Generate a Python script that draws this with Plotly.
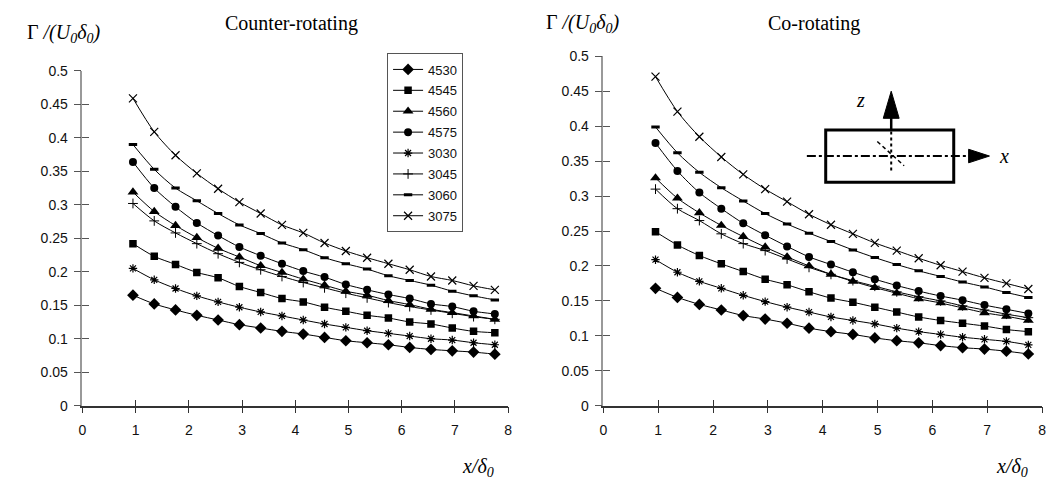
import plotly.graph_objects as go

W, H = 1053, 494

# ---------------- data ----------------
x_pos = [0.95, 1.35, 1.75, 2.15, 2.55, 2.95, 3.35, 3.75, 4.15,
         4.55, 4.95, 5.35, 5.75, 6.15, 6.55, 6.95, 7.35, 7.75]

series_names = ["4530", "4545", "4560", "4575", "3030", "3045", "3060", "3075"]

# Counter-rotating
cr_4530 = [0.165, 0.152, 0.143, 0.135, 0.128, 0.121, 0.116, 0.111, 0.107,
           0.102, 0.097, 0.094, 0.091, 0.087, 0.084, 0.082, 0.080, 0.077]
cr_4545 = [0.242, 0.223, 0.211, 0.199, 0.191, 0.178, 0.169, 0.160, 0.155,
           0.147, 0.141, 0.135, 0.131, 0.125, 0.122, 0.116, 0.111, 0.109]
cr_4560 = [0.319, 0.290, 0.269, 0.251, 0.235, 0.222, 0.209, 0.199, 0.189,
           0.180, 0.171, 0.165, 0.157, 0.151, 0.144, 0.139, 0.134, 0.129]
cr_4575 = [0.364, 0.325, 0.297, 0.273, 0.254, 0.237, 0.224, 0.212, 0.201,
           0.192, 0.181, 0.173, 0.166, 0.160, 0.152, 0.148, 0.141, 0.137]
cr_3030 = [0.205, 0.188, 0.175, 0.164, 0.155, 0.147, 0.140, 0.134, 0.128,
           0.122, 0.117, 0.112, 0.108, 0.104, 0.100, 0.098, 0.094, 0.091]
cr_3045 = [0.302, 0.276, 0.258, 0.242, 0.227, 0.214, 0.203, 0.193, 0.184,
           0.176, 0.168, 0.161, 0.154, 0.148, 0.143, 0.138, 0.133, 0.129]
cr_3060 = [0.390, 0.353, 0.325, 0.306, 0.287, 0.270, 0.257, 0.243, 0.233,
           0.221, 0.212, 0.204, 0.194, 0.187, 0.180, 0.171, 0.164, 0.158]
cr_3075 = [0.459, 0.409, 0.374, 0.347, 0.324, 0.304, 0.287, 0.270, 0.258,
           0.243, 0.231, 0.221, 0.212, 0.203, 0.193, 0.187, 0.179, 0.173]

# Co-rotating
co_4530 = [0.168, 0.155, 0.145, 0.137, 0.129, 0.124, 0.118, 0.111, 0.106,
           0.102, 0.097, 0.093, 0.090, 0.086, 0.083, 0.081, 0.078, 0.074]
co_4545 = [0.249, 0.230, 0.215, 0.203, 0.192, 0.181, 0.173, 0.163, 0.154,
           0.148, 0.141, 0.134, 0.127, 0.122, 0.118, 0.114, 0.109, 0.106]
co_4560 = [0.326, 0.297, 0.276, 0.258, 0.242, 0.227, 0.213, 0.200, 0.188,
           0.178, 0.169, 0.161, 0.153, 0.147, 0.140, 0.133, 0.128, 0.122]
co_4575 = [0.376, 0.336, 0.305, 0.282, 0.261, 0.244, 0.228, 0.213, 0.202,
           0.191, 0.181, 0.172, 0.164, 0.157, 0.151, 0.144, 0.138, 0.132]
co_3030 = [0.209, 0.191, 0.178, 0.168, 0.158, 0.149, 0.141, 0.134, 0.127,
           0.122, 0.117, 0.111, 0.106, 0.102, 0.098, 0.095, 0.092, 0.087]
co_3045 = [0.310, 0.282, 0.265, 0.246, 0.232, 0.222, 0.210, 0.198, 0.188,
           0.179, 0.171, 0.163, 0.156, 0.150, 0.143, 0.137, 0.131, 0.126]
co_3060 = [0.399, 0.362, 0.334, 0.312, 0.293, 0.275, 0.260, 0.247, 0.235,
           0.223, 0.212, 0.202, 0.193, 0.185, 0.177, 0.170, 0.162, 0.155]
co_3075 = [0.471, 0.421, 0.385, 0.356, 0.331, 0.310, 0.292, 0.274, 0.259,
           0.246, 0.233, 0.222, 0.211, 0.201, 0.192, 0.183, 0.175, 0.167]

counter_vals = [cr_4530, cr_4545, cr_4560, cr_4575, cr_3030, cr_3045, cr_3060, cr_3075]
co_vals = [co_4530, co_4545, co_4560, co_4575, co_3030, co_3045, co_3060, co_3075]

x_ticks = [0, 1, 2, 3, 4, 5, 6, 7, 8]
y_ticks = [0, 0.05, 0.1, 0.15, 0.2, 0.25, 0.3, 0.35, 0.4, 0.45, 0.5]

# ---------------- styles ----------------
marker_styles = [
    dict(symbol="diamond", size=9, color="black"),
    dict(symbol="square", size=7.5, color="black"),
    dict(symbol="triangle-up", size=9.5, color="black"),
    dict(symbol="circle", size=8, color="black"),
    dict(symbol="asterisk-open", size=7, color="black", line=dict(width=1.2, color="black")),
    dict(symbol="cross-thin-open", size=7, color="black", line=dict(width=1, color="black")),
    dict(symbol="line-ew-open", size=6, color="black", line=dict(width=3, color="black")),
    dict(symbol="x-thin-open", size=8, color="black", line=dict(width=1.2, color="black")),
]

SANS = "Liberation Sans, Arial, sans-serif"
SERIF = "Liberation Serif, Times New Roman, serif"


def px(x):
    return x / W


def py(y):
    return 1 - y / H


fig = go.Figure()

for i, name in enumerate(series_names):
    fig.add_trace(go.Scatter(
        x=x_pos, y=counter_vals[i], name=name, mode="lines+markers",
        line=dict(color="black", width=1, shape="spline", smoothing=0.8),
        marker=marker_styles[i], xaxis="x", yaxis="y",
        legendgroup=name, showlegend=True))
for i, name in enumerate(series_names):
    fig.add_trace(go.Scatter(
        x=x_pos, y=co_vals[i], name=name, mode="lines+markers",
        line=dict(color="black", width=1, shape="spline", smoothing=0.8),
        marker=marker_styles[i], xaxis="x2", yaxis="y2",
        legendgroup=name, showlegend=False))

# empty traces for overlay (inside) tick axes
fig.add_trace(go.Scatter(x=[], y=[], xaxis="x3", yaxis="y3", showlegend=False, hoverinfo="skip"))
fig.add_trace(go.Scatter(x=[], y=[], xaxis="x4", yaxis="y4", showlegend=False, hoverinfo="skip"))

ybot = py(411)
common_x = dict(range=[0, 8], tickvals=x_ticks, showgrid=False, zeroline=False,
                ticklabelstandoff=5,
                tickfont=dict(family=SANS, size=14, color="#111"))
common_y = dict(range=[0, 0.5], tickvals=y_ticks, showgrid=False, zeroline=False,
                ticklabelstandoff=3,
                tickfont=dict(family=SANS, size=14, color="#111"))

fig.update_layout(
    width=W, height=H, autosize=False,
    margin=dict(l=0, r=0, t=0, b=0),
    paper_bgcolor="white", plot_bgcolor="white",
    xaxis=dict(domain=[px(79), px(508)], anchor="y", showline=True, linecolor="#333",
               linewidth=1.5, ticks="outside", ticklen=6, tickcolor="#333", tickwidth=1, **common_x),
    yaxis=dict(domain=[ybot, py(65)], anchor="x", showline=True, linecolor="#999",
               linewidth=1.5, ticks="outside", ticklen=7, tickcolor="#555", tickwidth=1, **common_y),
    xaxis2=dict(domain=[px(604), px(1046)], anchor="y2", showline=True, linecolor="#333",
                linewidth=1.5, ticks="outside", ticklen=6, tickcolor="#333", tickwidth=1, **common_x),
    yaxis2=dict(domain=[ybot, py(50)], anchor="x2", showline=True, linecolor="#999",
                linewidth=1.5, ticks="outside", ticklen=7, tickcolor="#555", tickwidth=1, **common_y),
    xaxis3=dict(overlaying="x", anchor="y3", range=[0, 8], tickvals=x_ticks, ticks="inside",
                ticklen=6, tickcolor="#333", showticklabels=False, showline=False,
                showgrid=False, zeroline=False),
    yaxis3=dict(overlaying="y", anchor="x3", range=[0, 0.5], tickvals=y_ticks, ticks="inside",
                ticklen=7, tickcolor="#555", showticklabels=False, showline=False,
                showgrid=False, zeroline=False),
    xaxis4=dict(overlaying="x2", anchor="y4", range=[0, 8], tickvals=x_ticks, ticks="inside",
                ticklen=6, tickcolor="#333", showticklabels=False, showline=False,
                showgrid=False, zeroline=False),
    yaxis4=dict(overlaying="y2", anchor="x4", range=[0, 0.5], tickvals=y_ticks, ticks="inside",
                ticklen=7, tickcolor="#555", showticklabels=False, showline=False,
                showgrid=False, zeroline=False),
    showlegend=True,
    legend=dict(x=px(386), y=py(47), xanchor="left", yanchor="top",
                bgcolor="white", bordercolor="#555", borderwidth=1,
                font=dict(family=SANS, size=13, color="#111"),
                tracegroupgap=1, itemwidth=30),
)

ann = []
serif_it = dict(family=SERIF, size=20, color="black")


def label(text, x, y, font):
    return dict(text=text, x=px(x), y=py(y), xref="paper", yref="paper",
                xanchor="center", yanchor="middle", showarrow=False, font=font)


title_font = dict(family=SERIF, size=20, color="black")
ann.append(label("Counter-rotating", 290, 16, title_font))
ann.append(label("Co-rotating", 816, 16, title_font))
ann.append(label("Γ <i>/(U<sub>0</sub>δ<sub>0</sub>)</i>", 60, 26, serif_it))
ann.append(label("Γ <i>/(U<sub>0</sub>δ<sub>0</sub>)</i>", 583, 16, serif_it))
ann.append(label("<i>x/δ<sub>0</sub></i>", 478, 475, serif_it))
ann.append(label("<i>x/δ<sub>0</sub></i>", 1016, 475, serif_it))
ann.append(label("<i>z</i>", 863, 95, serif_it))
ann.append(label("<i>x</i>", 1008, 153, serif_it))
fig.update_layout(annotations=ann)

# inset diagram (paper coordinates)
shapes = []
shapes.append(dict(type="rect", xref="paper", yref="paper",
                   x0=px(828), x1=px(957), y0=py(180), y1=py(126),
                   line=dict(color="black", width=3), fillcolor="rgba(0,0,0,0)"))
shapes.append(dict(type="line", xref="paper", yref="paper",
                   x0=px(809), x1=px(974), y0=py(153), y1=py(153),
                   line=dict(color="black", width=2, dash="dashdot")))
shapes.append(dict(type="path", xref="paper", yref="paper",
                   path=f"M {px(972)},{py(146)} L {px(993)},{py(153)} L {px(972)},{py(160)} Z",
                   fillcolor="black", line=dict(color="black", width=1)))
shapes.append(dict(type="line", xref="paper", yref="paper",
                   x0=px(894), x1=px(894), y0=py(168), y1=py(126),
                   line=dict(color="black", width=2, dash="dot")))
shapes.append(dict(type="line", xref="paper", yref="paper",
                   x0=px(894), x1=px(894), y0=py(126), y1=py(112),
                   line=dict(color="black", width=2.5)))
shapes.append(dict(type="path", xref="paper", yref="paper",
                   path=f"M {px(886)},{py(114)} L {px(894)},{py(86)} L {px(902)},{py(114)} Z",
                   fillcolor="black", line=dict(color="black", width=1)))
shapes.append(dict(type="line", xref="paper", yref="paper",
                   x0=px(880), x1=px(907), y0=py(138), y1=py(163),
                   line=dict(color="black", width=1.5, dash="4px,3px")))
fig.update_layout(shapes=shapes)

fig.write_html("out.html")
